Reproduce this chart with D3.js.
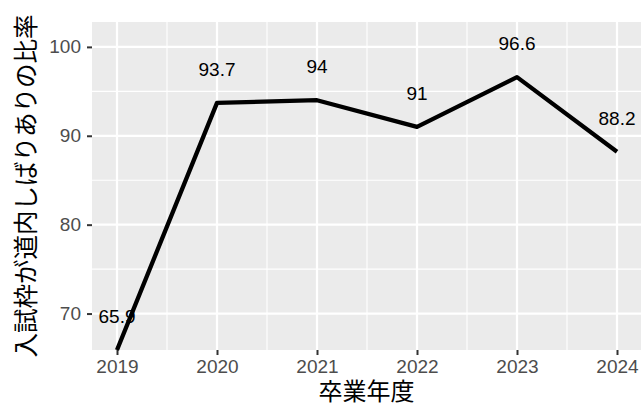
<!DOCTYPE html>
<html><head><meta charset="utf-8">
<script src="https://cdn.jsdelivr.net/npm/d3@7"></script>
<style>
html,body{margin:0;padding:0;background:#fff;}
svg{display:block;}
text{font-family:"Liberation Sans",Arial,"Noto Sans CJK JP",sans-serif;}
.jp{font-family:"Noto Sans CJK JP","Liberation Sans",sans-serif;}
</style></head>
<body>
<script>
const years = [2019, 2020, 2021, 2022, 2023, 2024];
const values = [65.9, 93.7, 94, 91, 96.6, 88.2];
const labels = ["65.9", "93.7", "94", "91", "96.6", "88.2"];
const yTicks = [70, 80, 90, 100];
const yMinor = [65, 75, 85, 95];
const xMinor = [2019.5, 2020.5, 2021.5, 2022.5, 2023.5];
const xTitle = "卒業年度";
const yTitle = "入試枠が道内しばりありの比率";

const W = 641, H = 407;
const P = {left: 92, right: 642, top: 22, bottom: 350};

const svg = d3.select("body").append("svg").attr("width", W).attr("height", H);

const x = d3.scaleLinear().domain([2018.75, 2024.25]).range([P.left, P.right]);
const y = d3.scaleLinear().domain([65.9, 102.8]).range([P.bottom, P.top]);

svg.append("rect").attr("x", P.left).attr("y", P.top)
  .attr("width", P.right - P.left).attr("height", P.bottom - P.top).attr("fill", "#EBEBEB");

const g = svg.append("g");
g.selectAll(".ymin").data(yMinor.filter(v => v >= 65.9 && v <= 102.8)).join("line")
  .attr("x1", P.left).attr("x2", P.right).attr("y1", d => y(d)).attr("y2", d => y(d))
  .attr("stroke", "#fff").attr("stroke-width", 1.1);
g.selectAll(".xmin").data(xMinor).join("line")
  .attr("y1", P.top).attr("y2", P.bottom).attr("x1", d => x(d)).attr("x2", d => x(d))
  .attr("stroke", "#fff").attr("stroke-width", 1.1);
g.selectAll(".ymaj").data(yTicks).join("line")
  .attr("x1", P.left).attr("x2", P.right).attr("y1", d => y(d)).attr("y2", d => y(d))
  .attr("stroke", "#fff").attr("stroke-width", 2.2);
g.selectAll(".xmaj").data(years).join("line")
  .attr("y1", P.top).attr("y2", P.bottom).attr("x1", d => x(d)).attr("x2", d => x(d))
  .attr("stroke", "#fff").attr("stroke-width", 2.2);

// axes
const xAxis = d3.axisBottom(x).tickValues(years).tickFormat(d3.format("d")).tickSize(5).tickPadding(5);
const xa = svg.append("g").attr("transform", `translate(0,${P.bottom})`).call(xAxis);
xa.select(".domain").remove();
xa.selectAll("line").attr("stroke", "#333").attr("stroke-width", 2);
xa.selectAll("text").attr("fill", "#4D4D4D").style("font-size", "19px")
  .style("font-family", '"Liberation Sans",Arial,sans-serif');

const yAxis = d3.axisLeft(y).tickValues(yTicks).tickSize(5).tickPadding(6);
const ya = svg.append("g").attr("transform", `translate(${P.left},0)`).call(yAxis);
ya.select(".domain").remove();
ya.selectAll("line").attr("stroke", "#333").attr("stroke-width", 2);
ya.selectAll("text").attr("fill", "#4D4D4D").style("font-size", "19px")
  .style("font-family", '"Liberation Sans",Arial,sans-serif');

// line
const data = years.map((yr, i) => ({yr, v: values[i], lab: labels[i]}));
svg.append("path").datum(data)
  .attr("d", d3.line().x(d => x(d.yr)).y(d => y(d.v)))
  .attr("fill", "none").attr("stroke", "#000").attr("stroke-width", 4.3)
  .attr("stroke-linejoin", "round");

svg.selectAll(".lab").data(data).join("text")
  .attr("x", d => x(d.yr)).attr("y", d => y(d.v) - 27)
  .attr("text-anchor", "middle").attr("fill", "#000")
  .style("font-size", "19px").text(d => d.lab);

// titles
svg.append("text").attr("class", "jp")
  .attr("x", (P.left + Math.min(P.right, W)) / 2 ).attr("y", 400)
  .attr("text-anchor", "middle").style("font-size", "24px").attr("fill", "#000").text(xTitle);
svg.append("text").attr("class", "jp")
  .attr("transform", `translate(35,${(P.top + P.bottom) / 2}) rotate(-90)`)
  .attr("text-anchor", "middle").style("font-size", "24.5px").attr("fill", "#000").text(yTitle);
</script>
</body></html>
